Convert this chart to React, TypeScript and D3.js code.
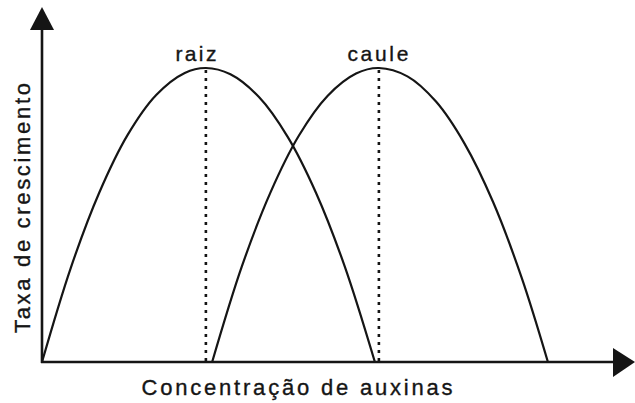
import React from "react";
import * as d3 from "d3";

// Concentration (x) and growth rate (y)
const raizX = [0, 5, 10, 15, 20, 25, 28.7, 33, 38, 43, 48, 53, 58.3];
const raizY = [0, 26.7, 48.3, 64.9, 76.3, 82.6, 84, 82.2, 75.7, 64.4, 48.3, 27.4, 0];
const cauleX = [29.8, 35, 40, 45, 50, 55, 59, 64, 69, 74, 79, 84, 88.6];
const cauleY = [0, 27.3, 48.4, 64.7, 76.0, 82.4, 84, 81.6, 74.4, 62.4, 45.7, 24.1, 0];
const peakLabels = ["raiz", "caule"];
const peakX = [28.7, 59];
const peakY = [84, 84];
const xTitle = "Concentração de auxinas";
const yTitle = "Taxa de crescimento";

const W = 635;
const H = 403;

export default function App() {
  const x = d3.scaleLinear().domain([0, 100]).range([42, 613]);
  const y = d3.scaleLinear().domain([0, 100]).range([362, 12]);
  const line = d3
    .line<[number, number]>()
    .x((d) => x(d[0]))
    .y((d) => y(d[1]))
    .curve(d3.curveCatmullRom);
  const raiz: [number, number][] = raizX.map((v, i) => [v, raizY[i]]);
  const caule: [number, number][] = cauleX.map((v, i) => [v, cauleY[i]]);
  const x0 = x(0);
  const y0 = y(0);
  const ink = "#151515";
  const font = "'Liberation Sans', Arial, sans-serif";
  const textStyle = { stroke: ink, strokeWidth: 0.35 };
  return (
    <svg
      width={W}
      height={H}
      style={{ position: "fixed", left: 0, top: 0, background: "#fff" }}
    >
      <rect width={W} height={H} fill="#fff" />
      {/* dotted peak lines */}
      {peakX.map((px, i) => (
        <line
          key={i}
          x1={x(px)}
          x2={x(px)}
          y1={y(peakY[i]) + 2}
          y2={y0}
          stroke={ink}
          strokeWidth={2.6}
          strokeDasharray="3,5"
        />
      ))}
      <path d={line(raiz) || ""} fill="none" stroke={ink} strokeWidth={2.2} />
      <path d={line(caule) || ""} fill="none" stroke={ink} strokeWidth={2.2} />
      {/* axes */}
      <line x1={x0} x2={x0} y1={y0 + 1} y2={28} stroke={ink} strokeWidth={2.6} />
      <line x1={x0 - 1} x2={615} y1={y0} y2={y0} stroke={ink} strokeWidth={2.6} />
      <polygon points={`${x0},7 ${x0 - 12},30 ${x0 + 12},30`} fill={ink} />
      <polygon points={`635,${y0} 613,${y0 - 14} 613,${y0 + 15}`} fill={ink} />
      {/* labels */}
      {peakLabels.map((t, i) => (
        <text
          key={t}
          x={x(peakX[i]) - (i === 0 ? 10 : 1)}
          y={61}
          textAnchor="middle"
          fontFamily={font}
          fontSize={21}
          fill={ink}
          style={textStyle}
          textLength={i === 0 ? 41 : 61}
          lengthAdjust="spacing"
        >
          {t}
        </text>
      ))}
      <text
        x={297}
        y={395}
        textAnchor="middle"
        fontFamily={font}
        fontSize={22}
        fill={ink}
        style={textStyle}
        textLength={311}
        lengthAdjust="spacing"
      >
        {xTitle}
      </text>
      <text
        transform="translate(30,208) rotate(-90)"
        textAnchor="middle"
        fontFamily={font}
        fontSize={22}
        fill={ink}
        style={textStyle}
        textLength={250}
        lengthAdjust="spacing"
      >
        {yTitle}
      </text>
    </svg>
  );
}
